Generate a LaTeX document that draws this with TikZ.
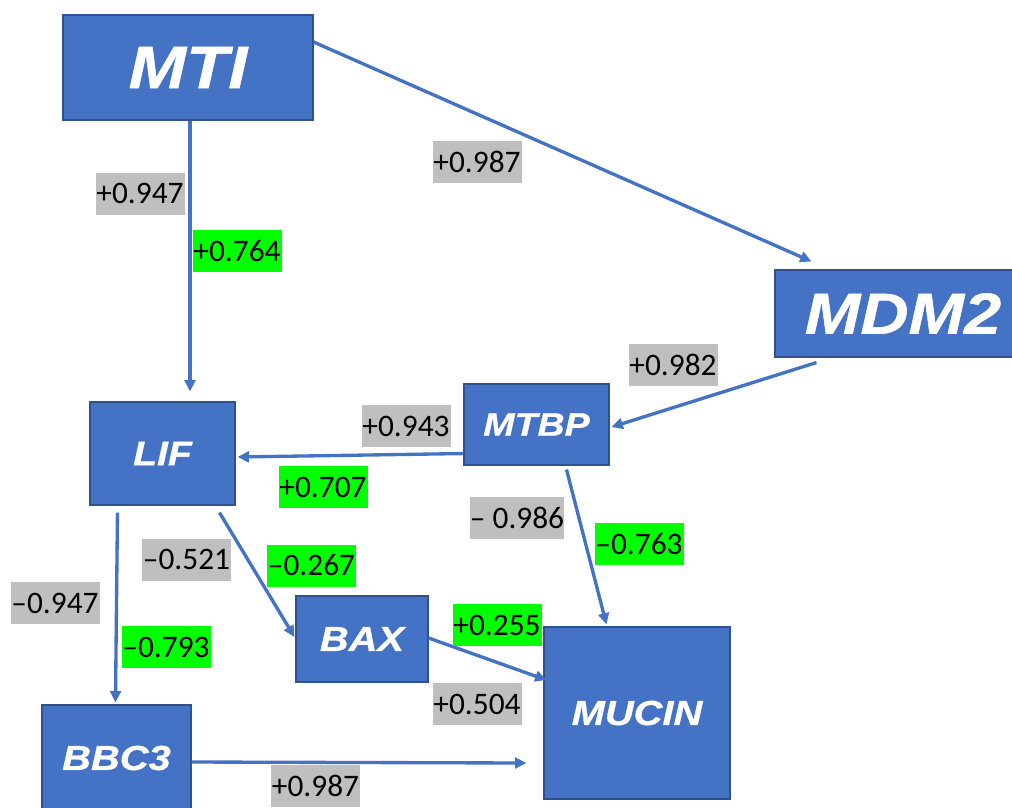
\documentclass[tikz,border=0pt]{standalone}
\usepackage{fontspec}
\setmainfont{Carlito}
\newfontfamily\boxfont[FakeStretch=1.15,FakeBold=0.8]{Liberation Sans}
\usetikzlibrary{arrows.meta,calc}
\definecolor{boxblue}{HTML}{4472C4}
\definecolor{boxborder}{HTML}{2F528F}
\definecolor{lblgray}{HTML}{BFBFBF}
\definecolor{lblgreen}{HTML}{00FF00}
\tikzset{
  gbox/.style={draw=boxborder, fill=boxblue, line width=0.8pt, text=white, inner sep=0pt},
  arr/.style={draw=boxblue, line width=2.5pt, -{Triangle[length=8.5pt,width=8pt]}},
  lbl/.style={inner sep=0pt, minimum width=66.75pt, minimum height=31.5pt, font=\fontsize{23.5}{26}\selectfont, text=black},
  glbl/.style={lbl, fill=lblgray},
  nlbl/.style={lbl, fill=lblgreen}
}
\begin{document}
\begin{tikzpicture}[x=0.75pt,y=-0.75pt]
\useasboundingbox (0,0) rectangle (1012,807);
\fill[white] (0,0) rectangle (1012,807);
% boxes
\node[gbox, minimum width=187.5pt, minimum height=78.75pt, font=\boxfont\bfseries\itshape\fontsize{45}{50}\selectfont] (MTI) at (188,67.5) {MTI};
\node[gbox, minimum width=192pt, minimum height=65.25pt, font=\boxfont\bfseries\itshape\fontsize{43.5}{48}\selectfont] (MDM2) at (903,313.5) {MDM2};
\node[gbox, minimum width=108.75pt, minimum height=60.75pt, font=\boxfont\bfseries\itshape\fontsize{24.5}{28}\selectfont] (MTBP) at (536.5,424.5) {MTBP};
\node[gbox, minimum width=108.75pt, minimum height=77.25pt, font=\boxfont\bfseries\itshape\fontsize{25.5}{28}\selectfont] (LIF) at (162.5,453.5) {LIF};
\node[gbox, minimum width=99pt, minimum height=64.5pt, font=\boxfont\bfseries\itshape\fontsize{26}{28}\selectfont] (BAX) at (362,639) {BAX};
\node[gbox, minimum width=139.5pt, minimum height=129pt, font=\boxfont\bfseries\itshape\fontsize{26}{28}\selectfont] (MUCIN) at (637,713) {MUCIN};
\node[gbox, minimum width=111.75pt, minimum height=79.5pt, font=\boxfont\bfseries\itshape\fontsize{26}{28}\selectfont] (BBC3) at (116.5,758) {BBC3};
% connectors
\draw[arr] ($(MTI.south)+(2,0)$) -- ($(LIF.north)+(27.5,-10)$);
\draw[arr] ($(MTI.east)+(0,-25.5)$) -- ($(MDM2.north west)+(37,-8)$);
\draw[arr] ($(MDM2.south west)+(42,5)$) -- ($(MTBP.east)+(2,2.5)$);
\draw[arr] ($(MTBP.south west)+(0,-12)$) -- ($(LIF.east)+(2,3.5)$);
\draw[arr] ($(MTBP.south west)+(103,4)$) -- ($(MUCIN.north west)+(63,-2)$);
\draw[arr] ($(LIF.south west)+(130,7)$) -- ($(BAX.west)+(-1,-2)$);
\draw[arr] ($(LIF.south west)+(28,7)$) -- ($(BBC3.north west)+(74,-2)$);
\draw[arr] ($(BAX.east)+(0,-1)$) -- ($(MUCIN.west)+(3,-33)$);
\draw[arr] ($(BBC3.east)+(0,4)$) -- ($(MUCIN.west)+(-17,50)$);
% labels
\node[glbl] (l1) at (140,193.5) {+0.947};
\node[nlbl] (l2) at (237,251) {+0.764};
\node[glbl] (l3) at (477,162) {+0.987};
\node[glbl] (l4) at (673,365) {+0.982};
\node[glbl] (l5) at (406,426) {+0.943};
\node[nlbl] (l6) at (323,487) {+0.707};
\node[glbl] (l7) at (517,518) {– 0.986};
\node[nlbl] (l8) at (639,544) {–0.763};
\node[glbl] (l9) at (186.5,559.5) {–0.521};
\node[nlbl] (l10) at (311.5,565.5) {–0.267};
\node[glbl] (l11) at (55,603) {–0.947};
\node[nlbl] (l12) at (166,647) {–0.793};
\node[nlbl] (l13) at (497,625) {+0.255};
\node[glbl] (l14) at (477,704) {+0.504};
\node[glbl] (l15) at (315.5,786) {+0.987};
\end{tikzpicture}
\end{document}
